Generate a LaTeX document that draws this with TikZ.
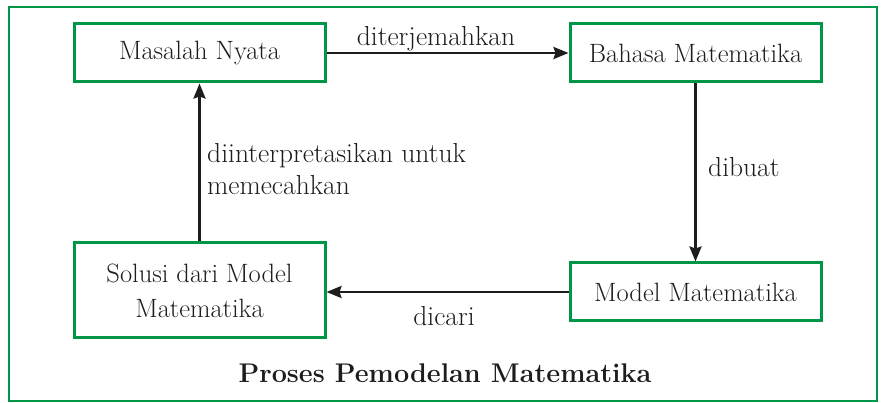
\documentclass[tikz,border=0pt]{standalone}
\usepackage{fontspec}
\setmainfont{Latin Modern Roman}
\usetikzlibrary{arrows.meta}
\definecolor{grn}{RGB}{0,150,72}
\definecolor{ink}{RGB}{30,28,28}
\tikzset{
  box/.style={draw=grn, line width=3pt, rectangle, minimum width=251pt, inner sep=0pt, align=center, text=ink, font=\fontsize{26.5}{35}\selectfont},
  conn/.style={draw=ink, line width=2.5pt, -{Stealth[length=15pt,width=12pt,inset=2pt]}},
  lbl/.style={text=ink, font=\fontsize{27.5}{32}\selectfont, inner sep=0pt}
}
\begin{document}
\begin{tikzpicture}[x=1pt,y=-1pt]
\useasboundingbox (0,0) rectangle (881,403);
\draw[grn, line width=2.6pt] (9,7) rectangle (877,401);
\node[box, minimum height=58pt] (masalah) at (199.5,53) {Masalah Nyata};
\node[box, minimum height=58pt] (bahasa) at (695.5,53) {Bahasa Matematika};
\node[box, minimum height=95pt] (solusi) at (199.5,290.5) {Solusi dari Model\\Matematika};
\node[box, minimum height=58pt] (model) at (695.5,292) {Model Matematika};
\draw[conn] (masalah) -- (bahasa);
\draw[conn] (bahasa) -- (model);
\draw[conn] (model.west) -- (model.west -| solusi.east);
\draw[conn] (solusi) -- (masalah);
\node[lbl, anchor=base] (l1) at (436,46) {diterjemahkan};
\node[lbl, anchor=base west] (l2) at (708,177) {dibuat};
\node[lbl, anchor=base] (l3) at (444,326) {dicari};
\node[lbl, anchor=north west, align=left] (l4) at (207,143) {diinterpretasikan untuk\\memecahkan};
\node[text=ink, anchor=base, font=\fontsize{27}{30}\selectfont\bfseries] (title) at (445,382) {Proses Pemodelan Matematika};
\end{tikzpicture}
\end{document}
